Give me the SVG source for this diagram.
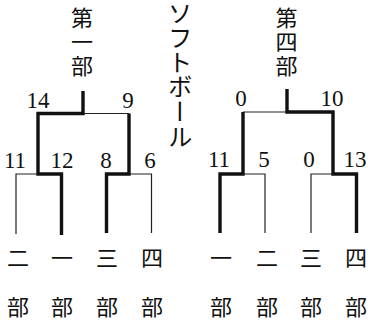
<svg xmlns="http://www.w3.org/2000/svg" width="368" height="321" viewBox="0 0 368 321">
<style>
.bg{fill:#fff}
.k{font-family:"Noto Sans CJK JP","Noto Sans CJK SC",sans-serif;font-size:22px;fill:#111;text-anchor:middle}
.h{font-family:"Noto Sans CJK JP","Noto Sans CJK SC",sans-serif;font-size:22px;fill:#111;writing-mode:vertical-rl;letter-spacing:2px}
.n{font-family:"Liberation Serif",serif;font-size:23px;fill:#111;text-anchor:middle}
.thick{fill:none;stroke:#111;stroke-width:3.4;stroke-linejoin:miter;stroke-linecap:butt}
.thin{fill:none;stroke:#222;stroke-width:1.2}
.v{font-family:"Noto Sans CJK JP",sans-serif;font-size:24.6px;fill:#111;writing-mode:vertical-rl}
</style>
<rect class="bg" width="368" height="321"/>
<g id="title"><text class="v" x="180" y="1">ソフトボール</text></g>
<g id="connectors">
<path class="thin" d="M83,113.5 H129"/>
<path class="thin" d="M38,174 H16 V234"/>
<path class="thin" d="M129,174 H151.5 V233"/>
<path class="thick" d="M83,91 V113.5 H38 V174 H61.5 V235"/>
<path class="thick" d="M129,113.5 V174 H106.5 V233"/>
<path class="thin" d="M287,112 H243"/>
<path class="thin" d="M243,174 H265 V233"/>
<path class="thin" d="M333,174 H311 V233"/>
<path class="thick" d="M287,89 V112 H333 V174 H356.5 V233"/>
<path class="thick" d="M243,112 V174 H220 V233"/>
</g>
<g id="header-1"><text class="h" x="82" y="6.5">第一部</text></g>
<g id="header-4"><text class="h" x="286.5" y="6.5">第四部</text></g>
<g id="scores-1">
<text class="n" x="38" y="108">14</text><text class="n" x="128" y="108">9</text>
<text class="n" x="15" y="168">11</text><text class="n" x="62" y="168">12</text><text class="n" x="106" y="168">8</text><text class="n" x="150" y="168">6</text>
</g>
<g id="scores-4">
<text class="n" x="241" y="106">0</text><text class="n" x="332" y="106">10</text>
<text class="n" x="219" y="167">11</text><text class="n" x="264" y="167">5</text><text class="n" x="309" y="167">0</text><text class="n" x="355" y="167">13</text>
</g>
<g id="leaf-a2"><text class="k" x="18" y="265.5">二</text><text class="k" x="18" y="314.5">部</text></g>
<g id="leaf-a1"><text class="k" x="62" y="265.5">一</text><text class="k" x="62" y="314.5">部</text></g>
<g id="leaf-a3"><text class="k" x="107" y="265.5">三</text><text class="k" x="107" y="314.5">部</text></g>
<g id="leaf-a4"><text class="k" x="152" y="265.5">四</text><text class="k" x="152" y="314.5">部</text></g>
<g id="leaf-b1"><text class="k" x="221" y="265.5">一</text><text class="k" x="221" y="314.5">部</text></g>
<g id="leaf-b2"><text class="k" x="267" y="265.5">二</text><text class="k" x="267" y="314.5">部</text></g>
<g id="leaf-b3"><text class="k" x="311" y="265.5">三</text><text class="k" x="311" y="314.5">部</text></g>
<g id="leaf-b4"><text class="k" x="356" y="265.5">四</text><text class="k" x="356" y="314.5">部</text></g>
</svg>
